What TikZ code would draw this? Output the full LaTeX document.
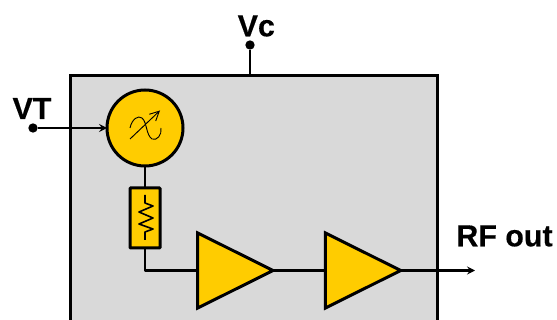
\documentclass[tikz,border=0pt]{standalone}
\usepackage{fontspec}
\setmainfont{Liberation Sans}[BoldFeatures={FakeBold=0.4}]
\usetikzlibrary{arrows.meta,shapes.geometric}
\definecolor{amber}{HTML}{FFCC00}
\definecolor{blockgrey}{HTML}{D9D9D9}
\tikzset{
  px/.style={x=0.75pt,y=-0.75pt},
  blockbox/.style={draw=black,fill=blockgrey,line width=2.25pt,inner sep=0pt,outer sep=0pt,minimum width=275.25pt,minimum height=225pt},
  part/.style={draw=black,fill=amber,line width=2.25pt,inner sep=0pt,outer sep=0pt},
  amp/.style={part,shape=isosceles triangle,isosceles triangle apex angle=53,minimum height=56.5pt,anchor=apex,miter limit=10},
  dot/.style={circle,fill=black,inner sep=0pt,outer sep=0pt,minimum size=7pt},
  wire/.style={draw=black,line width=2.2pt},
  boldwire/.style={draw=black,line width=2.8pt},
  arrowwire/.style={wire,-{Stealth[length=6pt,width=6pt,inset=2.2pt]}},
  label/.style={font=\bfseries\fontsize{22.8pt}{24pt}\selectfont,inner sep=0pt,text=black},
  glyph/.style={draw=black,line width=0.7pt}
}
\begin{document}
\begin{tikzpicture}[px]
\useasboundingbox (0,0) rectangle (557,320);
\fill[white] (0,0) rectangle (557,320);
\clip (0,0) rectangle (557,320);
\node[blockbox] (block) at (254,225.5) {};
\node[dot] (vc) at (250,45) {};
\node[dot] (vt) at (33,128) {};
\node[part,circle,minimum size=57pt] (tuner) at (145,128) {};
\node[part,rectangle,minimum width=22.5pt,minimum height=45pt,rounded corners=0.5pt] (res) at (145,218) {};
\node[amp] (a1) at (273,270.5) {};
\node[amp] (a2) at (400.7,270.5) {};
\coordinate (rfend) at (475,270.5);
\coordinate (midA) at (288,270.5);
\coordinate (midB) at (310,270.5);
\coordinate (outA) at (423,270.5);
\coordinate (outB) at (440,270.5);
\draw[wire] (vc) -- (vc |- block.north);
\draw[arrowwire] (vt) -- (tuner.west);
\draw[wire] (tuner.south) -- (res.north);
\draw[wire,line join=round] (res.south) |- (a1.west);
\draw[wire] (a1.apex) -- (a2.west);
\draw[boldwire] (midA) -- (midB);
\draw[arrowwire] (a2.apex) -- (rfend);
\draw[boldwire] (outA) -- (outB);
% tuner symbol
\draw[glyph,-{Straight Barb[length=7pt,width=7pt]}] (130,139) -- (160,110.5);
\draw[glyph] (130,128) .. controls (132,119) and (138,115) .. (142,118) .. controls (147,122) and (146,135) .. (152,139) .. controls (157,141) and (162,135) .. (161,128);
% resistor symbol
\draw[draw=black,line width=1.2pt,line join=round] (145,195) -- (145,203) -- (153,206) -- (139,212) -- (153,218) -- (139,224) -- (153,229) -- (145,232) -- (145,240);
\node[label] (vclabel) at (256.3,26) {Vc};
\node[label] (vtlabel) at (32,108.5) {VT};
\node[label] (rflabel) at (504.5,236) {RF out};
\end{tikzpicture}
\end{document}
